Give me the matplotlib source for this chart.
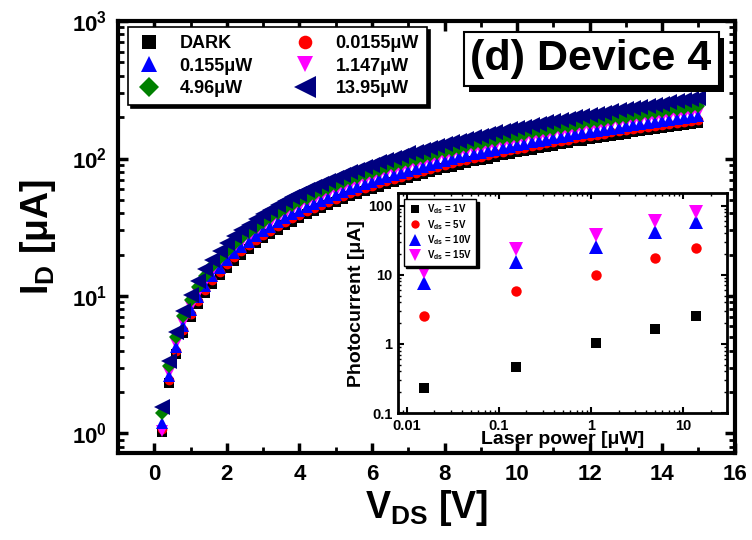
import matplotlib
matplotlib.use('Agg')
import matplotlib.pyplot as plt
from matplotlib.ticker import MultipleLocator, LogLocator, NullFormatter
from matplotlib import patheffects as pe

plt.rcParams['font.family'] = ['Liberation Sans', 'DejaVu Sans']
plt.rcParams['font.weight'] = 'bold'
plt.rcParams['axes.labelweight'] = 'bold'
plt.rcParams['mathtext.default'] = 'regular'

# drain voltage sweep (V)
vds = [0.2, 0.4, 0.6, 0.8, 1.0, 1.2, 1.4, 1.6, 1.8, 2.0, 2.2, 2.4, 2.6, 2.8, 3.0,
       3.2, 3.4, 3.6, 3.8, 4.0, 4.2, 4.4, 4.6, 4.8, 5.0, 5.2, 5.4, 5.6, 5.8, 6.0,
       6.2, 6.4, 6.6, 6.8, 7.0, 7.2, 7.4, 7.6, 7.8, 8.0, 8.2, 8.4, 8.6, 8.8, 9.0,
       9.2, 9.4, 9.6, 9.8, 10.0, 10.2, 10.4, 10.6, 10.8, 11.0, 11.2, 11.4, 11.6, 11.8, 12.0,
       12.2, 12.4, 12.6, 12.8, 13.0, 13.2, 13.4, 13.6, 13.8, 14.0, 14.2, 14.4, 14.6, 14.8, 15.0]

# drain current (uA) for each illumination
id_dark = [1.02, 2.33, 3.79, 5.36, 7.00, 8.71, 10.5, 12.3, 14.2, 16.1, 18.0, 20.0, 22.0, 24.1, 26.2,
           28.3, 30.4, 32.6, 34.7, 37.0, 39.2, 41.4, 43.7, 46.0, 48.3, 50.6, 53.0, 55.3, 57.7, 60.1,
           62.5, 64.9, 67.4, 69.8, 72.3, 74.8, 77.3, 79.8, 82.4, 84.9, 87.4, 90.0, 92.6, 95.2, 97.8,
           100, 103, 106, 108, 111, 114, 116, 119, 122, 124, 127, 130, 133, 135, 138,
           141, 144, 146, 149, 152, 155, 158, 160, 163, 166, 169, 172, 175, 178, 181]
id_p0155 = [1.07, 2.46, 4.01, 5.66, 7.40, 9.21, 11.1, 13.0, 15.0, 17.0, 19.1, 21.2, 23.3, 25.5, 27.7,
            29.9, 32.1, 34.4, 36.7, 39.1, 41.4, 43.8, 46.2, 48.6, 51.1, 53.5, 56.0, 58.5, 61.0, 63.5,
            66.1, 68.7, 71.2, 73.8, 76.5, 79.1, 81.7, 84.4, 87.1, 89.7, 92.4, 95.2, 97.9, 101, 103,
            106, 109, 112, 115, 117, 120, 123, 126, 129, 132, 134, 137, 140, 143, 146,
            149, 152, 155, 158, 161, 164, 167, 170, 173, 176, 179, 182, 185, 188, 191]
id_p155 = [1.20, 2.63, 4.28, 6.04, 7.90, 9.83, 11.8, 13.9, 16.0, 18.2, 20.4, 22.6, 24.9, 27.2, 29.5,
           31.9, 34.3, 36.7, 39.2, 41.7, 44.2, 46.8, 49.3, 51.9, 54.5, 57.1, 59.8, 62.4, 65.1, 67.8,
           70.6, 73.3, 76.1, 78.8, 81.6, 84.4, 87.3, 90.1, 92.9, 95.8, 98.7, 102, 105, 107, 110,
           113, 116, 119, 122, 125, 128, 131, 134, 137, 140, 143, 147, 150, 153, 156,
           159, 162, 165, 168, 172, 175, 178, 181, 184, 188, 191, 194, 197, 200, 204]
id_p1147 = [1.05, 2.76, 4.50, 6.35, 8.30, 10.3, 12.4, 14.6, 16.8, 19.1, 21.4, 23.7, 26.1, 28.6, 31.0,
            33.5, 36.1, 38.6, 41.2, 43.8, 46.5, 49.1, 51.8, 54.5, 57.3, 60.0, 62.8, 65.6, 68.4, 71.3,
            74.1, 77.0, 79.9, 82.8, 85.8, 88.7, 91.7, 94.6, 97.6, 101, 104, 107, 110, 113, 116,
            119, 122, 125, 128, 132, 135, 138, 141, 144, 148, 151, 154, 157, 160, 164,
            167, 170, 174, 177, 180, 184, 187, 190, 194, 197, 200, 204, 207, 211, 214]
id_p496 = [1.40, 3.10, 5.04, 7.12, 9.30, 11.6, 13.9, 16.4, 18.8, 21.4, 24.0, 26.6, 29.3, 32.0, 34.8,
           37.6, 40.4, 43.3, 46.2, 49.1, 52.0, 55.0, 58.1, 61.1, 64.2, 67.3, 70.4, 73.5, 76.7, 79.9,
           83.1, 86.3, 89.5, 92.8, 96.1, 99.4, 103, 106, 109, 113, 116, 120, 123, 127, 130,
           133, 137, 140, 144, 147, 151, 155, 158, 162, 165, 169, 173, 176, 180, 184,
           187, 191, 195, 198, 202, 206, 209, 213, 217, 221, 225, 228, 232, 236, 242]
id_p1395 = [1.55, 3.35, 5.50, 7.80, 10.2, 12.8, 15.6, 18.4, 21.3, 24.1, 27.1, 30.0, 33.1, 36.1, 39.2,
            42.4, 45.6, 48.8, 52.1, 55.4, 58.8, 62.1, 65.5, 69.0, 72.4, 75.9, 79.5, 83.0, 86.6, 90.2,
            93.8, 97.4, 101, 105, 109, 112, 116, 120, 124, 127, 131, 135, 139, 143, 147,
            151, 155, 159, 163, 166, 170, 174, 179, 183, 187, 191, 195, 199, 203, 207,
            211, 216, 220, 224, 228, 233, 238, 242, 247, 251, 256, 261, 266, 271, 277]

# inset: photocurrent (uA) vs laser power (uW)
power = [0.0155, 0.155, 1.147, 4.96, 13.95]
pc_1v = [0.23, 0.47, 1.02, 1.62, 2.57]
pc_5v = [2.55, 5.85, 10.0, 17.3, 24.3]
pc_10v = [7.5, 15.3, 25.1, 40.8, 57.0]
pc_15v = [10.9, 23.2, 37.2, 59.0, 80.0]

fig = plt.figure(figsize=(7.52, 5.40), dpi=100)
ax = fig.add_axes([0.157, 0.161, 0.820, 0.800])

h_dark, = ax.plot(vds, id_dark, 's', color='black', ms=7, mew=0, label='DARK')
h1, = ax.plot(vds, id_p0155, 'o', color='red', ms=7, mew=0, label='0.0155μW')
h3, = ax.plot(vds, id_p1147, 'v', color='magenta', ms=8.5, mew=0, label='1.147μW')
h2, = ax.plot(vds, id_p155, '^', color='blue', ms=8, mew=0, label='0.155μW')
h4, = ax.plot(vds, id_p496, 'D', color='green', ms=7.5, mew=0, label='4.96μW')
h5, = ax.plot(vds, id_p1395, '<', color='#000080', ms=11.5, mew=0, label='13.95μW')

ax.set_yscale('log')
ax.set_xlim(-1, 16)
ax.set_ylim(0.72, 1000)
ax.xaxis.set_major_locator(MultipleLocator(2))
ax.xaxis.set_minor_locator(MultipleLocator(1))
ax.yaxis.set_major_locator(LogLocator(base=10, numticks=10))
ax.yaxis.set_minor_locator(LogLocator(base=10, subs=range(2, 10), numticks=10))
ax.yaxis.set_minor_formatter(NullFormatter())
ax.tick_params(which='both', direction='in', top=True, right=True, labelsize=16)
ax.tick_params(which='major', length=7, width=2.5, pad=8)
ax.tick_params(which='minor', length=4, width=2)
for s in ax.spines.values():
    s.set_linewidth(3)
for lab in ax.get_xticklabels() + ax.get_yticklabels():
    lab.set_fontweight('bold')

ax.set_xlabel('V$_{DS}$ [V]', fontsize=27, labelpad=2)
ax.set_ylabel('I$_{D}$ [μA]', fontsize=27, labelpad=10)

leg = ax.legend([h_dark, h2, h4, h1, h3, h5],
                ['DARK', '0.155μW', '4.96μW', '0.0155μW', '1.147μW', '13.95μW'],
                ncol=2, loc='upper left', bbox_to_anchor=(0.016, 0.986), borderaxespad=0,
                fontsize=13, markerscale=1.4, handlelength=1.4, handletextpad=1.0,
                columnspacing=2.2, labelspacing=0.3, borderpad=0.45, fancybox=False,
                shadow={'color': 'black', 'alpha': 1})
leg.get_frame().set_edgecolor('black')
leg.get_frame().set_linewidth(1.2)
for t in leg.get_texts():
    t.set_fontweight('bold')

t = ax.text(0.767, 0.912, '(d) Device 4', transform=ax.transAxes, fontsize=31,
            fontweight='bold', ha='center', va='center',
            bbox=dict(boxstyle='square,pad=0.16', fc='white', ec='black', lw=1.5))
t.get_bbox_patch().set_path_effects(
    [pe.SimplePatchShadow(offset=(4, -4), shadow_rgbFace='black', alpha=1), pe.Normal()])

# inset
ins = fig.add_axes([0.529, 0.235, 0.4375, 0.407])
ins.plot(power, pc_1v, 's', color='black', ms=7, mew=0, label='V$_{ds}$ = 1V')
ins.plot(power, pc_5v, 'o', color='red', ms=7.5, mew=0, label='V$_{ds}$ = 5V')
ins.plot(power, pc_10v, '^', color='blue', ms=10, mew=0, label='V$_{ds}$ = 10V')
ins.plot(power, pc_15v, 'v', color='magenta', ms=10, mew=0, label='V$_{ds}$ = 15V')
ins.set_xscale('log')
ins.set_yscale('log')
ins.set_xlim(0.008, 30)
ins.set_ylim(0.1, 150)
ins.xaxis.set_minor_locator(LogLocator(base=10, subs=range(2, 10), numticks=10))
ins.yaxis.set_minor_locator(LogLocator(base=10, subs=range(2, 10), numticks=10))
ins.xaxis.set_minor_formatter(NullFormatter())
ins.yaxis.set_minor_formatter(NullFormatter())
ins.set_xticks([0.01, 0.1, 1, 10])
ins.set_xticklabels(['0.01', '0.1', '1', '10'])
ins.set_yticks([0.1, 1, 10, 100])
ins.set_yticklabels(['0.1', '1', '10', '100'])
ins.tick_params(which='both', direction='in', top=True, right=True, labelsize=10.5)
ins.tick_params(which='major', length=4, width=1.5, pad=4)
ins.tick_params(which='minor', length=2.5, width=1)
for s in ins.spines.values():
    s.set_linewidth(2)
for lab in ins.get_xticklabels() + ins.get_yticklabels():
    lab.set_fontweight('bold')
ins.set_xlabel('Laser power [μW]', fontsize=14, labelpad=-1)
ins.set_ylabel('Photocurrent [μA]', fontsize=14, labelpad=2)
ileg = ins.legend(loc='upper left', fontsize=7, fancybox=False, borderpad=0.35,
                  labelspacing=0.15, handletextpad=0.5, handlelength=1.6, markerscale=0.8,
                  borderaxespad=0.6, shadow={'color': 'black', 'alpha': 1})
ileg.get_frame().set_edgecolor('black')
ileg.get_frame().set_linewidth(1)
for t2 in ileg.get_texts():
    t2.set_fontweight('bold')

fig.savefig('out.png', dpi=100)
